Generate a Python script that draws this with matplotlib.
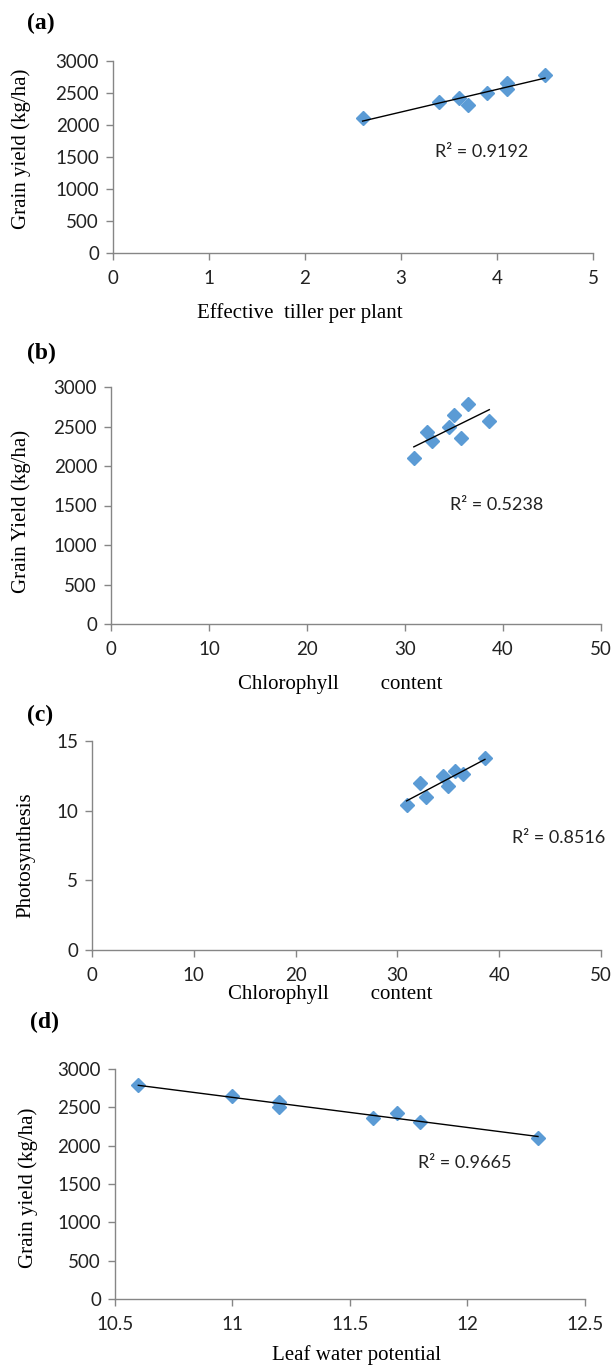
import numpy as np
import matplotlib.pyplot as plt

# data
tillers = [2.6, 3.4, 3.6, 3.7, 3.9, 4.1, 4.1, 4.5]
yields = [2105, 2355, 2425, 2315, 2500, 2650, 2570, 2785]
chlorophyll = [30.9, 35.7, 32.2, 32.8, 34.5, 35.0, 38.6, 36.4]
photo_chl = [30.9, 32.2, 32.8, 34.5, 35.0, 35.7, 36.4, 38.6]
photosynthesis = [10.4, 12.0, 10.95, 12.5, 11.75, 12.85, 12.6, 13.75]
leaf_water = [12.3, 11.6, 11.7, 11.8, 11.2, 11.0, 11.2, 10.6]
r2_labels = ['R² = 0.9192', 'R² = 0.5238', 'R² = 0.8516', 'R² = 0.9665']

W, H = 615, 1366
tick_font = 'Lato'
label_font = 'Liberation Serif'
blue = '#5B9BD5'
axis_grey = '#868686'

fig = plt.figure(figsize=(W / 100, H / 100), dpi=100)


def make_axes(left, right, top, bottom):
    return fig.add_axes([left / W, 1 - bottom / H, (right - left) / W, (bottom - top) / H])


def style(ax, xlim, xticks, ylim, yticks, xfmt=None):
    ax.set_xlim(xlim)
    ax.set_ylim(ylim)
    ax.set_xticks(xticks)
    ax.set_yticks(yticks)
    if xfmt:
        ax.set_xticklabels([xfmt(v) for v in xticks])
    for s in ['top', 'right']:
        ax.spines[s].set_visible(False)
    for s in ['left', 'bottom']:
        ax.spines[s].set_color(axis_grey)
        ax.spines[s].set_linewidth(1.0)
    ax.tick_params(direction='out', length=5, width=1.0, color=axis_grey)
    ax.tick_params(axis='x', pad=7)
    ax.tick_params(axis='y', pad=5)
    for lab in ax.get_xticklabels() + ax.get_yticklabels():
        lab.set_fontfamily(tick_font)
        lab.set_fontsize(13.5)
        lab.set_color('#222222')
    ax.patch.set_alpha(0)


def scatter_with_trend(ax, x, y):
    x = np.array(x, dtype=float)
    y = np.array(y, dtype=float)
    k, b = np.polyfit(x, y, 1)
    xs = np.array([x.min(), x.max()])
    ax.plot(xs, k * xs + b, color='black', lw=1.0, zorder=3)
    ax.plot(x, y, 'D', color=blue, ms=7.5, mec=blue, zorder=2, clip_on=False)


def panel_text(x, y, s):
    fig.text(x / W, 1 - y / H, s, fontfamily=label_font, fontweight='bold',
             fontsize=17, ha='left', va='center')


def xlabel(x, y, s):
    fig.text(x / W, 1 - y / H, s, fontfamily=label_font, fontsize=15,
             ha='center', va='center')


def ylabel(x, y, s):
    fig.text(x / W, 1 - y / H, s, fontfamily=label_font, fontsize=15,
             ha='center', va='center', rotation=90)


def r2(x, y, s):
    fig.text(x / W, 1 - y / H, s, fontfamily=tick_font, fontsize=13,
             ha='left', va='center', color='#222222')


# (a)
ax1 = make_axes(113, 593, 61, 253)
scatter_with_trend(ax1, tillers, yields)
style(ax1, (0, 5), range(0, 6), (0, 3000), range(0, 3001, 500))
panel_text(27, 23, '(a)')
ylabel(21, 149, 'Grain yield (kg/ha)')
xlabel(300, 313, 'Effective  tiller per plant')
r2(435, 152, r2_labels[0])

# (b)
ax2 = make_axes(111, 601, 387, 624)
scatter_with_trend(ax2, chlorophyll, yields)
style(ax2, (0, 50), range(0, 51, 10), (0, 3000), range(0, 3001, 500))
panel_text(27, 353, '(b)')
ylabel(21, 511, 'Grain Yield (kg/ha)')
xlabel(340, 684, 'Chlorophyll        content')
r2(450, 505, r2_labels[1])

# (c)
ax3 = make_axes(92, 601, 741, 950)
scatter_with_trend(ax3, photo_chl, photosynthesis)
style(ax3, (0, 50), range(0, 51, 10), (0, 15), range(0, 16, 5))
panel_text(27, 715, '(c)')
ylabel(26, 855, 'Photosynthesis')
xlabel(330, 994, 'Chlorophyll        content')
r2(512, 838, r2_labels[2])

# (d)
ax4 = make_axes(114.8, 585, 1069, 1299)
scatter_with_trend(ax4, leaf_water, yields)
style(ax4, (10.5, 12.5), [10.5, 11, 11.5, 12, 12.5], (0, 3000), range(0, 3001, 500),
      xfmt=lambda v: f'{v:g}')
panel_text(30, 1022, '(d)')
ylabel(28, 1188, 'Grain yield (kg/ha)')
xlabel(357, 1355, 'Leaf water potential')
r2(418, 1163, r2_labels[3])

fig.savefig('out.png', dpi=100)
